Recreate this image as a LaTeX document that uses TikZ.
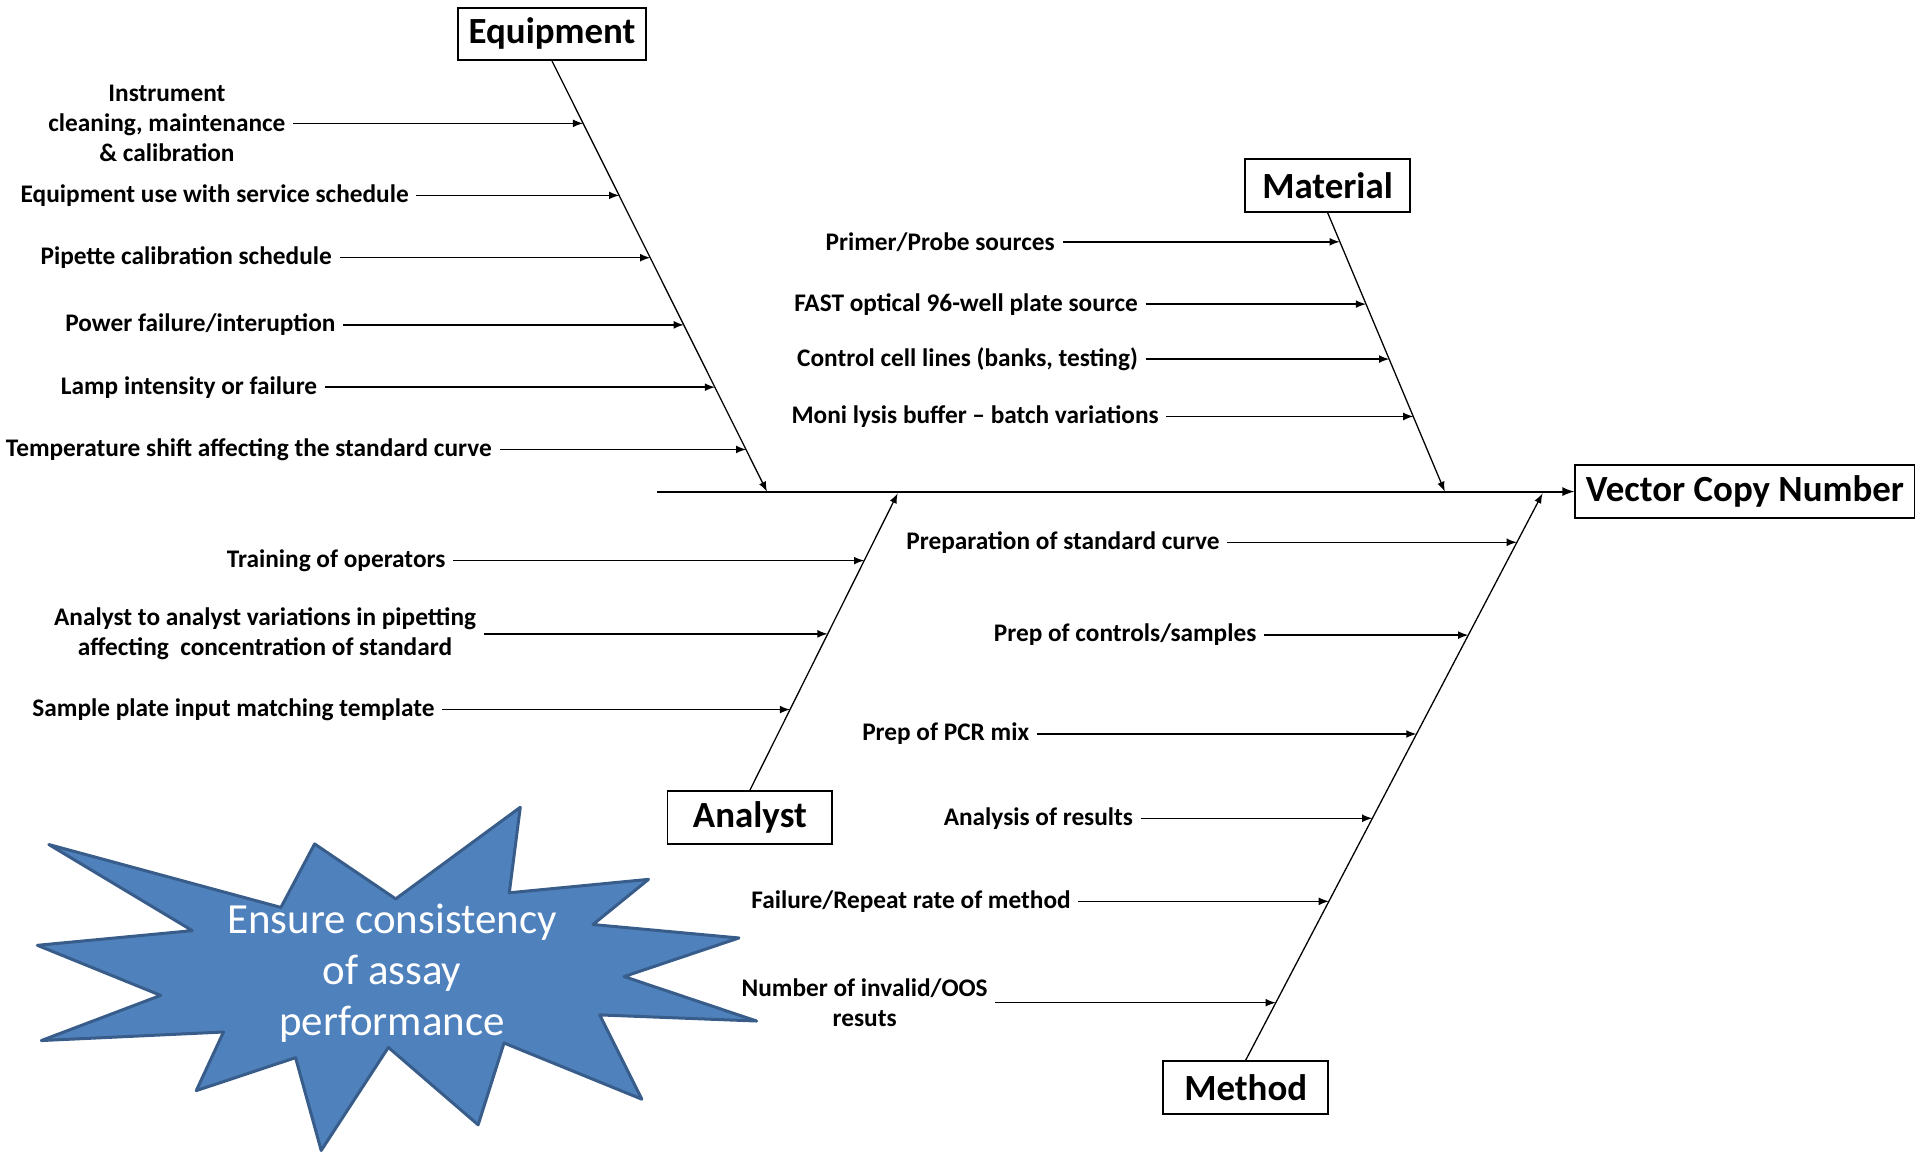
\documentclass[tikz,border=0pt]{standalone}
\usepackage{fontspec}
\setmainfont{Carlito}
\usetikzlibrary{arrows}
\definecolor{burstfill}{HTML}{4F81BD}
\definecolor{burstdraw}{HTML}{385D8A}
\tikzset{
  cat_box/.style = {draw=black, line width=0.9pt, minimum width=2.7cm, minimum height=0.86cm, inner xsep=5pt, font=\fontsize{17.2}{20}\selectfont\bfseries},
  cause_txt/.style = {anchor=east, align=center, inner xsep=3.4pt, inner ysep=0pt, font=\fontsize{11.8}{13.9}\selectfont\bfseries},
  cause_arr/.style = {-latex, line width=0.65pt},
  bone/.style = {-latex, line width=0.6pt},
  burst/.style = {fill=burstfill, draw=burstdraw, line width=1.4pt, line join=round},
}

\begin{document}
\begin{tikzpicture}[x=0.02cm, y=-0.02cm]
  \useasboundingbox (0,0) rectangle (1568,947);

  % effect and spine
  \node [cat_box, anchor=west] (vcn) at (1289,402.5) {Vector Copy Number};
  \coordinate (tail) at (538,402.5);
  \draw [bone, line width=0.9pt] (tail) -- (vcn);

  % Equipment
  \node [cat_box, anchor=south] (equip) at (452,50) {Equipment};
  \coordinate (eq_head) at (628,402.5);
  \draw [bone] (equip.south) -- (eq_head);
  \coordinate (eq1) at (477.5,101);
  \coordinate (eq2) at (507,160);
  \coordinate (eq3) at (532.5,211);
  \coordinate (eq4) at (560,266);
  \coordinate (eq5) at (585.5,317);
  \coordinate (eq6) at (611,368);
  \node [cause_txt] (eq1_t) at (240,101) {Instrument\\cleaning, maintenance\\\& calibration};
  \node [cause_txt] (eq2_t) at (341,160) {Equipment use with service schedule};
  \node [cause_txt] (eq3_t) at (278,211) {Pipette calibration schedule};
  \node [cause_txt] (eq4_t) at (281,266) {Power failure/interuption};
  \node [cause_txt] (eq5_t) at (266,317) {Lamp intensity or failure};
  \node [cause_txt] (eq6_t) at (409,368) {Temperature shift affecting the standard curve};
  \draw [cause_arr] (eq1_t) -- (eq1);
  \draw [cause_arr] (eq2_t) -- (eq2);
  \draw [cause_arr] (eq3_t) -- (eq3);
  \draw [cause_arr] (eq4_t) -- (eq4);
  \draw [cause_arr] (eq5_t) -- (eq5);
  \draw [cause_arr] (eq6_t) -- (eq6);

  % Material
  \node [cat_box, anchor=south] (mat) at (1087,174) {Material};
  \coordinate (mat_head) at (1183,402.5);
  \draw [bone] (mat.south) -- (mat_head);
  \coordinate (mt1) at (1097,198);
  \coordinate (mt2) at (1118.5,249);
  \coordinate (mt3) at (1137.5,294);
  \coordinate (mt4) at (1157.3,341);
  \node [cause_txt] (mt1_t) at (870,198) {Primer/Probe sources};
  \node [cause_txt] (mt2_t) at (938,249) {FAST optical 96-well plate source};
  \node [cause_txt] (mt3_t) at (938,294) {Control cell lines (banks, testing)};
  \node [cause_txt] (mt4_t) at (955,341) {Moni lysis buffer -- batch variations};
  \draw [cause_arr] (mt1_t) -- (mt1);
  \draw [cause_arr] (mt2_t) -- (mt2);
  \draw [cause_arr] (mt3_t) -- (mt3);
  \draw [cause_arr] (mt4_t) -- (mt4);

  % Analyst
  \node [cat_box, anchor=north] (anl) at (614,647) {Analyst};
  \coordinate (anl_head) at (735,404);
  \draw [bone] (anl.north) -- (anl_head);
  \coordinate (an1) at (707.6,459);
  \coordinate (an2) at (677.7,519);
  \coordinate (an3) at (646.9,581);
  \node [cause_txt] (an1_t) at (371,459) {Training of operators};
  \node [cause_txt] (an2_t) at (396,519) {Analyst to analyst variations in pipetting\\affecting~ concentration of standard};
  \node [cause_txt] (an3_t) at (362,581) {Sample plate input matching template};
  \draw [cause_arr] (an1_t) -- (an1);
  \draw [cause_arr] (an2_t) -- (an2);
  \draw [cause_arr] (an3_t) -- (an3);

  % Method
  \node [cat_box, anchor=north] (meth) at (1020,868) {Method};
  \coordinate (meth_head) at (1263,404);
  \draw [bone] (meth.north) -- (meth_head);
  \coordinate (me1) at (1242,444);
  \coordinate (me2) at (1202.3,520);
  \coordinate (me3) at (1159.8,601);
  \coordinate (me4) at (1123.7,670);
  \coordinate (me5) at (1088.1,738);
  \coordinate (me6) at (1044.6,821);
  \node [cause_txt] (me1_t) at (1005,444) {Preparation of standard curve};
  \node [cause_txt] (me2_t) at (1035,520) {Prep of controls/samples};
  \node [cause_txt] (me3_t) at (849,601) {Prep of PCR mix};
  \node [cause_txt] (me4_t) at (934,670) {Analysis of results};
  \node [cause_txt] (me5_t) at (883,738) {Failure/Repeat rate of method};
  \node [cause_txt] (me6_t) at (815,821) {Number of invalid/OOS\\resuts};
  \draw [cause_arr] (me1_t) -- (me1);
  \draw [cause_arr] (me2_t) -- (me2);
  \draw [cause_arr] (me3_t) -- (me3);
  \draw [cause_arr] (me4_t) -- (me4);
  \draw [cause_arr] (me5_t) -- (me5);
  \draw [cause_arr] (me6_t) -- (me6);

  % starburst
  \draw [burst] (40,691.5) -- (157.5,762) -- (30.6,774) -- (131.6,815) -- (33.8,852)
    -- (183,845) -- (160.7,893) -- (242,866) -- (263,942) -- (318,857.6)
    -- (391.5,921) -- (412.7,854) -- (525.5,900) -- (491,831) -- (619.5,836)
    -- (511,799.6) -- (605,768) -- (485.5,757) -- (531,720) -- (417,731)
    -- (426,661) -- (324,736) -- (257.6,691) -- (230,743) -- cycle;
  \node [align=center, white, font=\fontsize{20}{23.8}\selectfont] (goal) at (321,797) {Ensure consistency\\of assay\\performance};
\end{tikzpicture}
\end{document}
